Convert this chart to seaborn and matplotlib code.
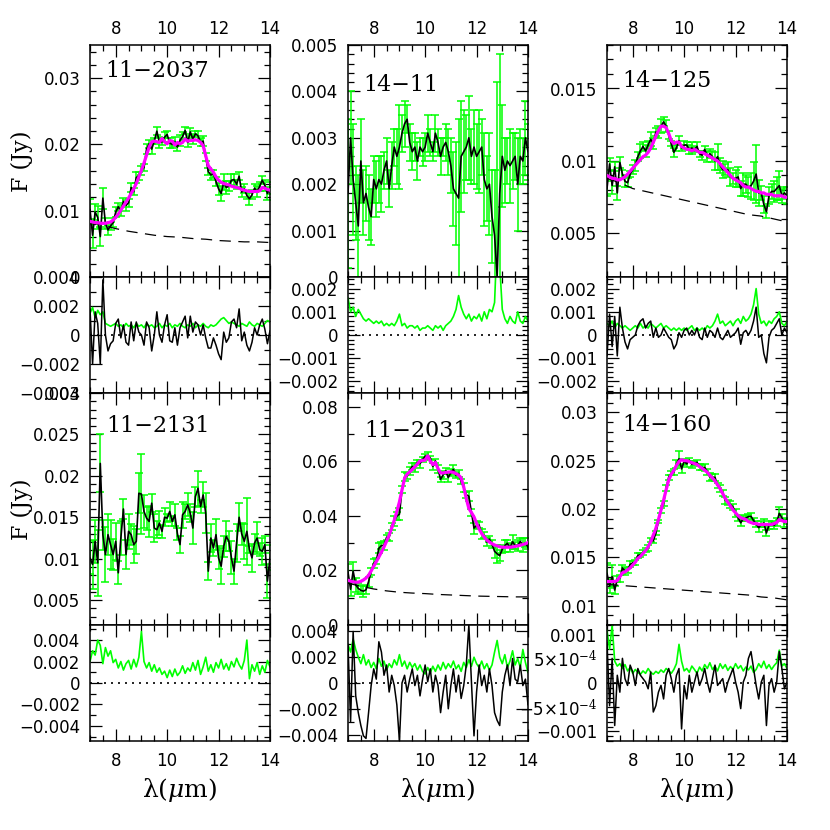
import numpy as np
import matplotlib
matplotlib.use("Agg")
import matplotlib.pyplot as plt
from matplotlib.ticker import MultipleLocator, FuncFormatter
import seaborn as sns

sns.set_style("ticks")
plt.rcParams['font.family'] = ['DejaVu Sans']
plt.rcParams['mathtext.fontset'] = 'dejavuserif'
plt.rcParams['text.color'] = 'black'
plt.rcParams['xtick.color'] = 'black'
plt.rcParams['ytick.color'] = 'black'

# wavelength grid of the spectra (micron)
wave = [7.0, 7.1, 7.2, 7.3, 7.4, 7.5, 7.6, 7.7, 7.8, 7.9,
        8.0, 8.1, 8.2, 8.3, 8.4, 8.5, 8.6, 8.7, 8.8, 8.9,
        9.0, 9.1, 9.2, 9.3, 9.4, 9.5, 9.6, 9.7, 9.8, 9.9,
        10.0, 10.1, 10.2, 10.3, 10.4, 10.5, 10.6, 10.7, 10.8, 10.9,
        11.0, 11.1, 11.2, 11.3, 11.4, 11.5, 11.6, 11.7, 11.8, 11.9,
        12.0, 12.1, 12.2, 12.3, 12.4, 12.5, 12.6, 12.7, 12.8, 12.9,
        13.0, 13.1, 13.2, 13.3, 13.4, 13.5, 13.6, 13.7, 13.8, 13.9,
        14.0]
# wavelengths at which the continuum is tabulated
cont_wave = [7.0, 7.5, 8.0, 8.5, 9.0, 9.5, 10.0, 10.5, 11.0, 11.5,
             12.0, 12.5, 13.0, 13.5, 14.0]

# ---- 11-2037 ----
model1 = [0.0084, 0.0083, 0.0082, 0.0082, 0.0081, 0.0081, 0.0081, 0.0082, 0.0083, 0.0086,
          0.0090, 0.0095, 0.0101, 0.0107, 0.0113, 0.0119, 0.0126, 0.0133, 0.0141, 0.0151,
          0.0161, 0.0172, 0.0184, 0.0196, 0.0204, 0.0205, 0.0204, 0.0203, 0.0209, 0.0204,
          0.0201, 0.0206, 0.0205, 0.0199, 0.0203, 0.0201, 0.0203, 0.0208, 0.0205, 0.0206,
          0.0206, 0.0207, 0.0206, 0.0203, 0.0198, 0.0183, 0.0168, 0.0163, 0.0158, 0.0151,
          0.0146, 0.0143, 0.0141, 0.0140, 0.0139, 0.0137, 0.0136, 0.0135, 0.0134, 0.0132,
          0.0131, 0.0130, 0.0129, 0.0129, 0.0129, 0.0129, 0.0130, 0.0135, 0.0134, 0.0132,
          0.0131]
resid1 = [18, -20, 16, 8, -20, 38, 0, -11, -6, -4,
          8, 11, -2, 7, -5, -7, 9, -4, 9, 2,
          0, -7, 9, 5, -11, 0, 16, 0, -5, 7,
          14, -4, -5, 5, -7, 5, 9, 13, -2, 13,
          2, 9, 7, 0, 7, -2, -9, -9, -2, -7,
          -13, -17, 2, -5, -2, 9, 11, 5, 18, -4,
          2, -7, -11, -5, 5, 0, 7, 11, 4, -6,
          3]  # 1e-4 Jy
err1 = [15, 19, 12, 17, 14, 16, 8, 7, 6, 7,
        8, 6, 7, 5, 8, 6, 7, 5, 8, 6,
        7, 5, 8, 6, 7, 5, 6, 8, 5, 7,
        6, 8, 5, 7, 6, 8, 6, 5, 7, 6,
        8, 5, 7, 6, 8, 6, 5, 7, 6, 7,
        9, 11, 12, 10, 8, 9, 8, 7, 6, 8,
        7, 6, 9, 7, 6, 8, 7, 6, 8, 10,
        9]  # 1e-4 Jy
cont1 = [0.0083, 0.0078, 0.0073, 0.0069, 0.0066, 0.0063, 0.0061, 0.0060, 0.0058, 0.0057,
         0.0055, 0.0054, 0.0053, 0.0053, 0.0052]

# ---- 14-11 (no fit) ----
flux2 = [0.0018, 0.0030, 0.0021, 0.0016, 0.0011, 0.0025, 0.0016, 0.0018, 0.0015, 0.0013,
         0.0021, 0.0019, 0.0021, 0.0020, 0.0023, 0.0025, 0.0019, 0.0024, 0.0028, 0.0026,
         0.0028, 0.0031, 0.0033, 0.0034, 0.0029, 0.0027, 0.0028, 0.0025, 0.0028, 0.0027,
         0.0028, 0.0031, 0.0029, 0.0027, 0.0031, 0.0029, 0.0026, 0.0028, 0.0029, 0.0027,
         0.0024, 0.0019, 0.0018, 0.0017, 0.0026, 0.0027, 0.0028, 0.0030, 0.0026, 0.0028,
         0.0026, 0.0027, 0.0028, 0.0021, 0.0019, 0.0020, 0.0013, 0.0009, 0.0000, 0.0018,
         0.0026, 0.0023, 0.0025, 0.0024, 0.0025, 0.0026, 0.0020, 0.0026, 0.0025, 0.0030,
         0.0027]
err2 = [16, 10, 12, 8, 11, 9, 7, 6, 7, 6,
        5, 6, 5, 6, 4, 5, 4, 5, 4, 6,
        9, 4, 5, 3, 4, 4, 3, 4, 2, 3,
        3, 4, 3, 2, 4, 3, 4, 2, 4, 5,
        6, 8, 11, 17, 12, 9, 7, 9, 6, 8,
        7, 9, 6, 10, 7, 11, 10, 14, 42, 30,
        11, 7, 5, 8, 6, 5, 10, 6, 5, 8,
        6]  # 1e-4 Jy

# ---- 14-125 ----
model3 = [0.0090, 0.0089, 0.0088, 0.0088, 0.0087, 0.0087, 0.0088, 0.0089, 0.0091, 0.0093,
          0.0095, 0.0097, 0.0099, 0.0101, 0.0103, 0.0104, 0.0106, 0.0109, 0.0113, 0.0117,
          0.0121, 0.0124, 0.0124, 0.0123, 0.0119, 0.0114, 0.0112, 0.0113, 0.0113, 0.0110,
          0.0109, 0.0108, 0.0108, 0.0107, 0.0108, 0.0107, 0.0106, 0.0106, 0.0105, 0.0104,
          0.0103, 0.0102, 0.0101, 0.0100, 0.0098, 0.0096, 0.0094, 0.0092, 0.0090, 0.0088,
          0.0087, 0.0086, 0.0085, 0.0083, 0.0082, 0.0082, 0.0081, 0.0080, 0.0079, 0.0079,
          0.0078, 0.0078, 0.0077, 0.0077, 0.0077, 0.0076, 0.0076, 0.0076, 0.0076, 0.0075,
          0.0075]
resid3 = [-9, 9, -5, 8, -9, 12, 3, -3, -6, -2,
          -1, 0, 4, 6, 7, 3, 5, 6, -1, 3,
          -1, 0, 3, 1, -1, -2, -6, -4, 1, -1,
          2, 3, 0, 2, 0, 3, -1, -2, 3, -1,
          2, 1, -1, 3, -1, -2, 0, 2, -1, 0,
          1, 3, -4, 1, 2, 0, 2, 6, 12, -1,
          0, -8, -12, -1, 2, 3, 5, 7, 0, 3,
          1]  # 1e-4 Jy
err3 = [5, 4, 6, 3, 5, 4, 3, 4, 3, 2,
        3, 4, 3, 5, 3, 4, 3, 5, 4, 3,
        4, 5, 3, 4, 3, 2, 3, 2, 3, 2,
        3, 2, 3, 4, 2, 3, 2, 3, 2, 4,
        3, 4, 6, 9, 5, 6, 4, 5, 6, 4,
        6, 7, 5, 8, 6, 7, 9, 13, 20, 9,
        5, 6, 4, 6, 5, 7, 8, 10, 5, 4,
        6]  # 1e-4 Jy
cont3 = [0.0088, 0.0085, 0.0081, 0.0079, 0.0077, 0.0075, 0.0073, 0.0071, 0.0069, 0.0067,
         0.0065, 0.0063, 0.0062, 0.0060, 0.0058]

# ---- 11-2131 (no fit) ----
flux4 = [0.0101, 0.0093, 0.0121, 0.0095, 0.0215, 0.0129, 0.0105, 0.0129, 0.0117, 0.0105,
         0.0121, 0.0083, 0.0125, 0.0160, 0.0105, 0.0133, 0.0129, 0.0117, 0.0121, 0.0179,
         0.0178, 0.0157, 0.0149, 0.0145, 0.0167, 0.0137, 0.0135, 0.0143, 0.0133, 0.0150,
         0.0149, 0.0157, 0.0145, 0.0153, 0.0130, 0.0117, 0.0153, 0.0157, 0.0165, 0.0155,
         0.0137, 0.0175, 0.0185, 0.0163, 0.0177, 0.0155, 0.0085, 0.0125, 0.0113, 0.0129,
         0.0101, 0.0091, 0.0115, 0.0127, 0.0121, 0.0101, 0.0085, 0.0119, 0.0150, 0.0130,
         0.0121, 0.0133, 0.0111, 0.0101, 0.0119, 0.0125, 0.0111, 0.0109, 0.0117, 0.0073,
         0.0101]
err4 = [20, 30, 26, 40, 35, 18, 33, 25, 30, 19,
        22, 14, 20, 12, 18, 21, 13, 22, 15, 24,
        48, 20, 14, 19, 11, 17, 10, 14, 8, 11,
        5, 12, 6, 13, 7, 10, 16, 9, 14, 11,
        19, 12, 21, 8, 15, 24, 11, 17, 10, 19,
        14, 22, 13, 18, 12, 20, 15, 23, 17, 13,
        21, 40, 4, 17, 11, 19, 8, 16, 10, 21,
        15]  # 1e-4 Jy

# ---- 11-2031 ----
model5 = [0.0164, 0.0161, 0.0158, 0.0157, 0.0157, 0.0160, 0.0165, 0.0172, 0.0182, 0.0198,
          0.0215, 0.0232, 0.0249, 0.0267, 0.0286, 0.0307, 0.0329, 0.0355, 0.0384, 0.0416,
          0.0451, 0.0495, 0.0537, 0.0553, 0.0561, 0.0570, 0.0579, 0.0590, 0.0601, 0.0603,
          0.0604, 0.0620, 0.0600, 0.0588, 0.0595, 0.0573, 0.0557, 0.0557, 0.0559, 0.0560,
          0.0561, 0.0559, 0.0555, 0.0549, 0.0539, 0.0506, 0.0463, 0.0427, 0.0412, 0.0396,
          0.0372, 0.0352, 0.0335, 0.0322, 0.0311, 0.0304, 0.0298, 0.0293, 0.0290, 0.0287,
          0.0285, 0.0285, 0.0285, 0.0285, 0.0286, 0.0288, 0.0290, 0.0292, 0.0295, 0.0298,
          0.0302]
resid5 = [30, -30, 40, -10, -23, -33, -41, -43, -23, -2,
          11, 3, 32, 24, 6, 14, -7, 6, -2, -17,
          -45, 0, 6, -7, 3, 11, -2, 6, -10, 3,
          14, 1, 11, -7, 6, -2, -23, -7, 6, -20,
          -2, 11, -7, 6, -12, -2, 14, 45, 1, -41,
          -7, 14, -2, 6, -7, 11, -2, -23, -29, -33,
          -7, 6, 14, -2, 19, 3, 1, 14, -2, 3,
          -17]  # 1e-4 Jy
err5 = [30, 24, 34, 26, 20, 15, 22, 14, 18, 12,
        16, 11, 19, 13, 17, 10, 15, 12, 18, 14,
        22, 13, 17, 11, 16, 12, 15, 10, 14, 9,
        7, 12, 8, 13, 9, 14, 10, 16, 11, 15,
        12, 17, 11, 14, 9, 16, 12, 18, 13, 20,
        15, 12, 17, 11, 15, 10, 14, 24, 33, 20,
        15, 22, 12, 17, 25, 14, 19, 12, 26, 16,
        8]  # 1e-4 Jy
cont5 = [0.0153, 0.0142, 0.0132, 0.0125, 0.0120, 0.0117, 0.0115, 0.0112, 0.0110, 0.0108,
         0.0106, 0.0105, 0.0104, 0.0103, 0.0103]

# ---- 14-160 ----
model6 = [0.0125, 0.0125, 0.0125, 0.0125, 0.0126, 0.0130, 0.0134, 0.0135, 0.0137, 0.0139,
          0.0142, 0.0145, 0.0149, 0.0151, 0.0154, 0.0157, 0.0161, 0.0166, 0.0173, 0.0180,
          0.0189, 0.0199, 0.0209, 0.0220, 0.0230, 0.0236, 0.0240, 0.0245, 0.0249, 0.0251,
          0.0250, 0.0250, 0.0249, 0.0248, 0.0247, 0.0246, 0.0244, 0.0242, 0.0240, 0.0238,
          0.0235, 0.0232, 0.0229, 0.0225, 0.0221, 0.0216, 0.0211, 0.0207, 0.0203, 0.0199,
          0.0196, 0.0193, 0.0191, 0.0190, 0.0189, 0.0187, 0.0186, 0.0185, 0.0185, 0.0184,
          0.0184, 0.0184, 0.0184, 0.0184, 0.0184, 0.0185, 0.0186, 0.0189, 0.0188, 0.0187,
          0.0187]
resid6 = [85, -47, 51, -88, 16, -19, 51, 9, -5, 37,
          23, -5, 30, 16, 9, 2, -12, 23, -60, -47,
          -19, -5, -33, 16, 30, 9, -19, 16, 30, -95,
          -5, -33, 16, -19, 2, 23, -5, 9, 30, 2,
          -19, 9, 37, -5, 2, 9, -19, 2, 16, 30,
          2, -19, -53, 2, 16, 51, 65, 30, -5, -33,
          2, 16, -88, -5, 9, -19, 2, 65, 30, -12,
          2]  # 1e-5 Jy
err6 = [110, 70, 120, 45, 35, 40, 30, 38, 25, 32,
        20, 28, 22, 18, 25, 20, 30, 22, 18, 24,
        20, 27, 22, 30, 25, 20, 28, 40, 80, 45,
        25, 30, 22, 35, 28, 20, 33, 25, 38, 30,
        42, 28, 35, 25, 40, 30, 38, 26, 34, 28,
        40, 30, 36, 25, 33, 27, 35, 22, 28, 40,
        32, 45, 30, 38, 28, 36, 42, 68, 35, 40,
        30]  # 1e-5 Jy
cont6 = [0.0122, 0.0121, 0.0120, 0.0119, 0.0118, 0.0117, 0.0116, 0.0115, 0.0114, 0.0113,
         0.0112, 0.0111, 0.0109, 0.0108, 0.0106]

GREEN = '#00ff00'
MAGENTA = '#ff00ff'


def tick_label(v, pos):
    if abs(v) < 1e-12:
        return '0'
    if abs(abs(v) - 5e-4) < 1e-10:
        s = r'5×10$^{-4}$'
    else:
        s = '%g' % abs(v)
    return '\u2212' + s if v < 0 else s


def style_axis(ax, ylim, ymaj, ymin):
    ax.set_xlim(7, 14)
    ax.set_ylim(*ylim)
    ax.xaxis.set_major_locator(MultipleLocator(2))
    ax.xaxis.set_minor_locator(MultipleLocator(0.5))
    ax.yaxis.set_major_locator(MultipleLocator(ymaj))
    ax.yaxis.set_minor_locator(MultipleLocator(ymin))
    ax.xaxis.set_major_formatter(FuncFormatter(tick_label))
    ax.yaxis.set_major_formatter(FuncFormatter(tick_label))
    ax.tick_params(which='both', direction='in', top=True, bottom=True,
                   left=True, right=True, labelsize=12, width=0.9,
                   color='black', labelcolor='black')
    ax.tick_params(which='major', length=8.5)
    ax.tick_params(which='minor', length=4.5)
    ax.tick_params(axis='y', pad=7)
    for sp in ax.spines.values():
        sp.set_linewidth(1.1)
        sp.set_color('black')
    ax.set_xlabel('')
    ax.set_ylabel('')


fig = plt.figure(figsize=(8.3, 8.3), dpi=100)
fig.patch.set_facecolor('white')

lefts = [90 / 830, 348 / 830, 607 / 830]
width = 180 / 830
main_h = 232 / 830
res_h = 116 / 830
main_bottoms = [1 - 277 / 830, 1 - 625 / 830]
res_bottoms = [1 - 393 / 830, 1 - 741 / 830]

panels = [
    dict(name='11\u22122037', row=0, col=0, model=model1, resid=resid1, rscale=1e-4,
         err=err1, escale=1e-4, cont=cont1, ylim=(0, 0.035), ymaj=0.01, ymin=0.002,
         rlim=(-0.004, 0.004), rmaj=0.002, rmin=0.001, lx=0.083, ly=0.886),
    dict(name='14\u221211', row=0, col=1, flux=flux2, err=err2, escale=1e-4,
         ylim=(0, 0.005), ymaj=0.001, ymin=0.0002,
         rlim=(-0.0025, 0.0025), rmaj=0.001, rmin=0.0002, lx=0.083, ly=0.828),
    dict(name='14\u2212125', row=0, col=2, model=model3, resid=resid3, rscale=1e-4,
         err=err3, escale=1e-4, cont=cont3, ylim=(0.002, 0.018), ymaj=0.005, ymin=0.001,
         rlim=(-0.0025, 0.0025), rmaj=0.001, rmin=0.0002, lx=0.083, ly=0.845),
    dict(name='11\u22122131', row=1, col=0, flux=flux4, err=err4, escale=1e-4,
         ylim=(0.002, 0.030), ymaj=0.005, ymin=0.001,
         rlim=(-0.0054, 0.0054), rmaj=0.002, rmin=0.001, lx=0.089, ly=0.858),
    dict(name='11\u22122031', row=1, col=1, model=model5, resid=resid5, rscale=1e-4,
         err=err5, escale=1e-4, cont=cont5, ylim=(0, 0.085), ymaj=0.02, ymin=0.01,
         rlim=(-0.0045, 0.0045), rmaj=0.002, rmin=0.001, lx=0.089, ly=0.836),
    dict(name='14\u2212160', row=1, col=2, model=model6, resid=resid6, rscale=1e-5,
         err=err6, escale=1e-5, cont=cont6, ylim=(0.008, 0.032), ymaj=0.005, ymin=0.001,
         rlim=(-0.0012, 0.0012), rmaj=0.0005, rmin=0.0001, lx=0.083, ly=0.862),
]

for p in panels:
    r, c = p['row'], p['col']
    ax = fig.add_axes([lefts[c], main_bottoms[r], width, main_h])
    axr = fig.add_axes([lefts[c], res_bottoms[r], width, res_h])

    err = np.array(p['err']) * p['escale']
    if 'model' in p:
        model = np.array(p['model'])
        resid = np.array(p['resid']) * p['rscale']
        flux = model + resid
    else:
        flux = np.array(p['flux'])

    # main panel: spectrum with error bars, fit and continuum
    ax.errorbar(wave, flux, yerr=err, fmt='none', ecolor=GREEN, elinewidth=1.1,
                capsize=3, capthick=1.1, zorder=2)
    sns.lineplot(x=wave, y=flux, ax=ax, color='black', linewidth=1.2,
                 errorbar=None, zorder=3)
    if 'model' in p:
        sns.lineplot(x=cont_wave, y=p['cont'], ax=ax, color='black', linewidth=0.9,
                     linestyle=(0, (9, 6)), errorbar=None, zorder=3)
        sns.lineplot(x=wave, y=model, ax=ax, color=MAGENTA, linewidth=2.3,
                     errorbar=None, zorder=4)
    ax.text(p['lx'], p['ly'], p['name'], transform=ax.transAxes, ha='left',
            va='center', fontsize=16, family='DejaVu Serif')
    style_axis(ax, p['ylim'], p['ymaj'], p['ymin'])

    # residual panel
    axr.axhline(0, color='black', linewidth=1.2, linestyle=(0, (1.2, 3)), zorder=1)
    sns.lineplot(x=wave, y=err, ax=axr, color=GREEN, linewidth=1.2,
                 errorbar=None, zorder=2)
    if 'model' in p:
        sns.lineplot(x=wave, y=resid, ax=axr, color='black', linewidth=1.1,
                     errorbar=None, zorder=3)
    style_axis(axr, p['rlim'], p['rmaj'], p['rmin'])

    if r == 0:
        ax.tick_params(axis='x', labeltop=True, labelbottom=False, pad=5)
        axr.tick_params(axis='x', labeltop=False, labelbottom=False)
    else:
        ax.tick_params(axis='x', labeltop=False, labelbottom=False)
        axr.tick_params(axis='x', labeltop=False, labelbottom=True, pad=8)

# axis titles
for yc in [161, 509]:
    fig.text(22 / 830, 1 - yc / 830, 'F (Jy)', rotation=90, ha='center', va='center',
             fontsize=16, family='DejaVu Serif')
for c in range(3):
    fig.text(lefts[c] + width / 2, 1 - 790 / 830, r'λ($\mu$m)', ha='center', va='center',
             fontsize=18, family='DejaVu Serif')

fig.savefig('out.png', dpi=100, facecolor='white')
